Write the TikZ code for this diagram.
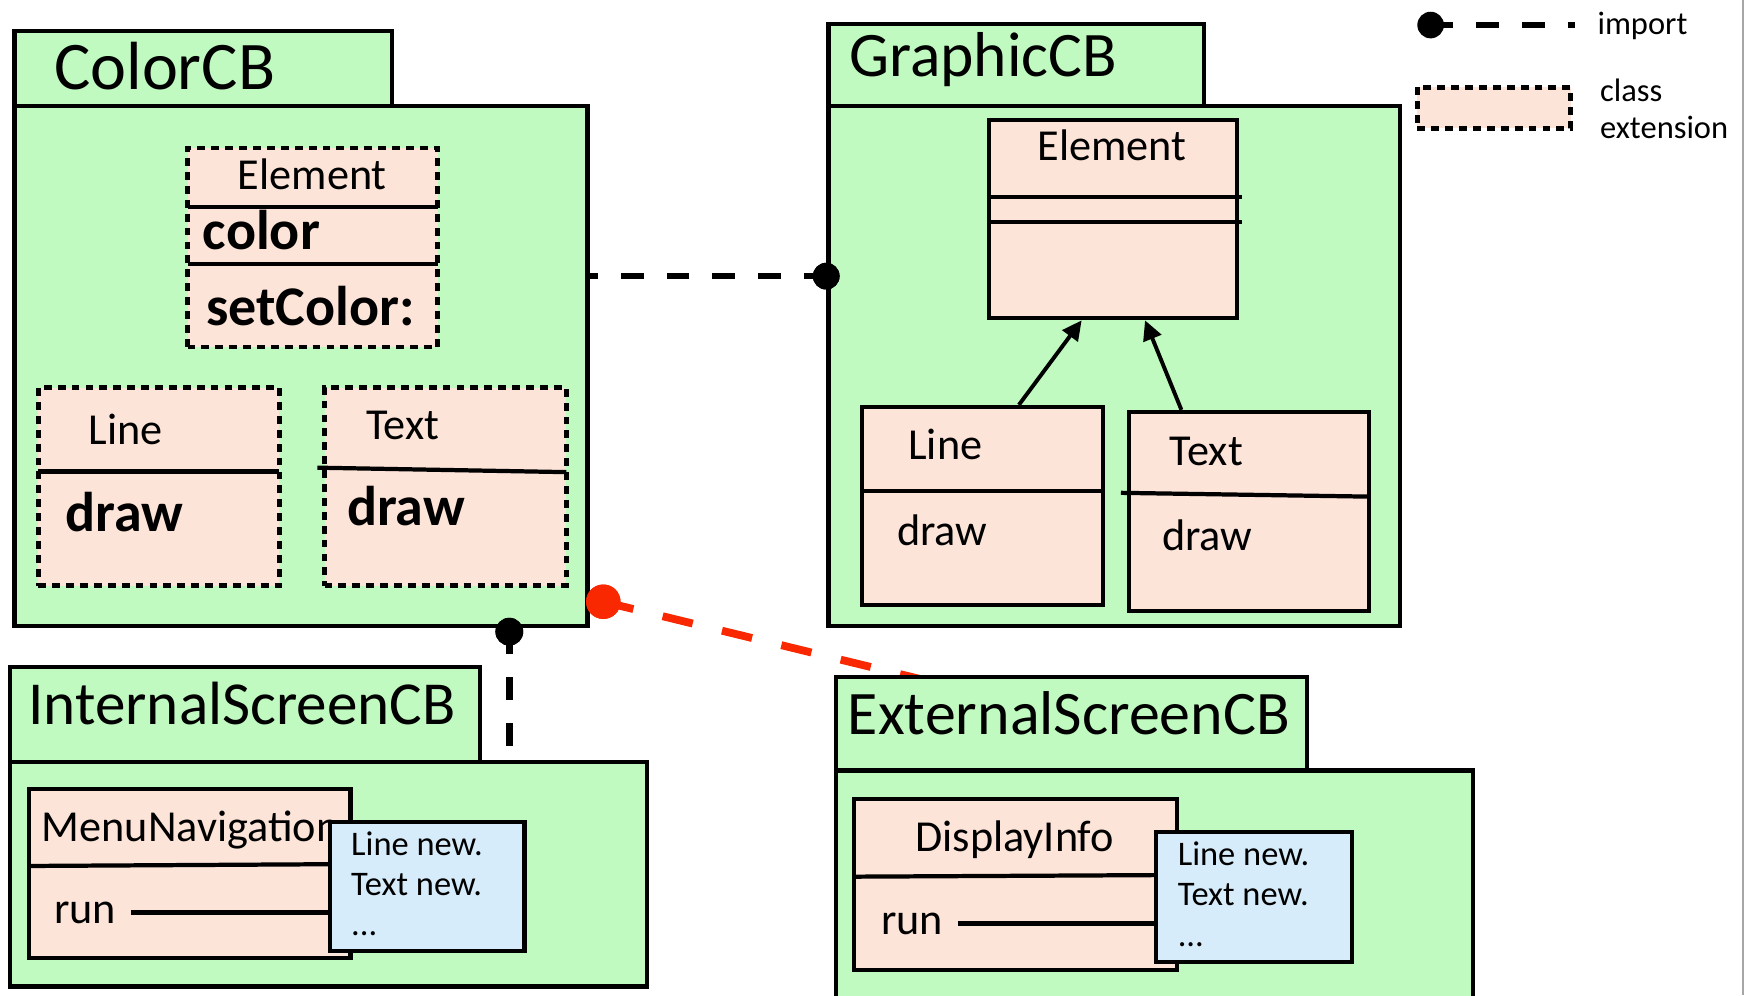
\documentclass[tikz,border=0pt]{standalone}
\usepackage{fontspec}
\setmainfont{Carlito}
\usetikzlibrary{fit,arrows.meta}

\definecolor{pkggreen}{RGB}{192,250,192}
\definecolor{classpeach}{RGB}{253,228,216}
\definecolor{noteblue}{RGB}{214,236,250}
\definecolor{importred}{RGB}{250,40,0}

\begin{document}
\begin{tikzpicture}[x=0.01cm,y=-0.01cm,
  outline/.style={draw=black, line width=1.08pt, inner sep=0pt},
  pkgbox/.style={outline, fill=pkggreen},
  clsbox/.style={outline, fill=classpeach},
  extbox/.style={clsbox, line width=1.2pt, dash pattern=on 2pt off 1.55pt},
  notebox/.style={outline, fill=noteblue},
  divider/.style={line width=1.08pt},
  pkgname/.style={anchor=base west, inner sep=0pt, font=\fontsize{#1}{#1}\selectfont},
  clsname/.style={anchor=base west, inner sep=0pt, font=\fontsize{11.3}{13}\selectfont},
  clsbold/.style={anchor=base west, inner sep=0pt, font=\fontsize{14.3}{16}\selectfont\bfseries},
  notetext/.style={anchor=base west, inner sep=0pt, font=\fontsize{8.8}{10}\selectfont},
  legendtext/.style={anchor=base west, inner sep=0pt, font=\fontsize{8.3}{10}\selectfont},
  importline/.style={line width=1.71pt, dash pattern=on 5.8pt off 5.86pt},
  redimport/.style={draw=importred, line width=2pt, dash pattern=on 7.9pt off 7.7pt},
  dot/.style={circle, fill=#1, inner sep=0pt},
  inherit/.style={line width=1pt, -{Triangle[length=5pt,width=4.8pt]}},
  runline/.style={line width=1.2pt},
]
\clip (0,0) rectangle (1568,894);

% ---------------- packages ----------------
\node[pkgbox, fit={(13,95) (527.6,562)}] (colorbody) {};
\node[pkgbox, fit={(13,27.5) (352,95)}] (colortab) {};
\node[pkgname=17.4] (colorname) at (48,80.8) {ColorCB};

\node[pkgbox, fit={(744,95) (1257.3,562)}] (graphicbody) {};
\node[pkgbox, fit={(744,21.3) (1081,95)}] (graphictab) {};
\node[pkgname=16.2] (graphicname) at (762,69) {GraphicCB};

\node[pkgbox, fit={(8.8,684) (581.3,886)}] (internalbody) {};
\node[pkgbox, fit={(8.8,599.3) (431,684)}] (internaltab) {};
\node[pkgname=15.6] (internalname) at (24.9,651) {InternalScreenCB};

% red import runs under the ExternalScreenCB tab
\node[dot=importred, minimum size=8.8pt] (rdot) at (541.8,540.4) {};
\coordinate (redend) at (850,615.6);
\draw[redimport] (rdot.center) -- (redend);
\node[dot=importred, minimum size=8.8pt] at (rdot) {};

\node[pkgbox, fit={(751,692) (1322.6,910)}] (externalbody) {};
\node[pkgbox, fit={(751,608.3) (1173.6,692)}] (externaltab) {};
\node[pkgname=15.8] (externalname) at (760.7,660) {ExternalScreenCB};

% ---------------- ColorCB class extensions ----------------
\node[extbox, fit={(168.4,133) (393,311.5)}] (celem) {};
\draw[divider] (168.4,186) -- (393,186);
\draw[divider] (168.4,237) -- (393,237);
\node[clsname] (celemname) at (213,170) {Element};
\node[clsbold] (ccolor) at (181.5,224) {color};
\node[clsbold] (csetcolor) at (184.6,292) {setColor:};

\node[extbox, fit={(34.4,348) (251,526)}] (cline) {};
\draw[divider] (34.4,423.5) -- (251,423.5);
\node[clsname] (clinename) at (79,399.6) {Line};
\node[clsbold] (clinedraw) at (58.4,477) {draw};

\node[extbox, fit={(291.5,348) (508.7,526)}] (ctext) {};
\draw[divider] (285,420) -- (508.7,424);
\node[clsname] (ctextname) at (328,395) {Text};
\node[clsbold] (ctextdraw) at (311,472) {draw};

% ---------------- GraphicCB classes ----------------
\node[clsbox, fit={(888,107.6) (1111,285.8)}] (gelem) {};
\draw[divider] (888,177) -- (1115,177);
\draw[divider] (888,199.5) -- (1115,199.5);
\node[clsname] (gelemname) at (931.3,144.4) {Element};

\node[clsbox, fit={(774,365.5) (990.5,543.6)}] (gline) {};
\draw[divider] (774,440.8) -- (990.5,440.8);
\node[clsname] (glinename) at (815,413) {Line};
\node[clsname] (glinedraw) at (805,490) {draw};

\node[clsbox, fit={(1013.7,370) (1229.4,549)}] (gtext) {};
\draw[divider] (1006.7,442.6) -- (1229.4,446);
\node[clsname] (gtextname) at (1050,418) {Text};
\node[clsname] (gtextdraw) at (1043,494) {draw};

\draw[inherit] ([xshift=0.3275cm]gline.north) -- ([xshift=-0.281cm]gelem.south);
\draw[inherit] ([xshift=-0.6055cm]gtext.north) -- ([xshift=0.288cm]gelem.south);

% ---------------- InternalScreenCB ----------------
\node[clsbox, fit={(26,708.9) (314.7,860.6)}] (menu) {};
\draw[divider] (26,777.7) -- (314.7,776);
\node[clsname] (menuname) at (36.9,755.9) {MenuNavigation};
\node[clsname] (menurun) at (48,829.2) {run};
\node[notebox, fit={(296.7,738.5) (471,853.8)}] (inote) {};
\draw[runline] ([xshift=0.124cm]menurun.east) -- (menurun.east -| inote.west);
\node[notetext] (inote1) at (314.7,767.9) {Line new.};
\node[notetext] (inote2) at (314.7,803.8) {Text new.};
\node[notetext] (inote3) at (314.7,839.7) {...};

% ---------------- ExternalScreenCB ----------------
\node[clsbox, fit={(767.2,717.5) (1057,871)}] (disp) {};
\draw[divider] (767.2,787.3) -- (1057,785.8);
\node[clsname] (dispname) at (821.4,764.9) {DisplayInfo};
\node[clsname] (disprun) at (790.5,839.1) {run};
\node[notebox, fit={(1038.2,746.9) (1214.2,864.2)}] (enote) {};
\draw[runline] ([xshift=0.125cm]disprun.east) -- (disprun.east -| enote.west);
\node[notetext] (enote1) at (1057,777.4) {Line new.};
\node[notetext] (enote2) at (1057,813.3) {Text new.};
\node[notetext] (enote3) at (1057,850.2) {...};

% ---------------- imports ----------------
\node[dot=black, minimum size=6.83pt] (gdot) at (742,248) {};
\draw[importline] (gdot.center) -- (colorbody.east |- gdot);
\node[dot=black, minimum size=6.83pt] at (gdot) {};

\node[dot=black, minimum size=7.1pt] (idot) at (457.4,567.3) {};
\draw[importline] (idot.center) -- (idot |- internalbody.north);
\node[dot=black, minimum size=7.1pt] at (idot) {};

% ---------------- legend ----------------
\node[dot=black, minimum size=6.8pt] (legdot) at (1284.8,22.5) {};
\coordinate (legendend) at (1414.5,22.5);
\draw[importline] (legdot.center) -- (legendend);
\node[legendtext] (legimport) at (1434,30.8) {import};
\node[extbox, fit={(1272.9,78.4) (1410.5,115.2)}] (legbox) {};
\node[legendtext] (legclass) at (1436.3,91.3) {class};
\node[legendtext] (legext) at (1436.3,124.2) {extension};

% right page edge
\draw[gray!70, line width=0.5pt] (1565.6,0) -- (1565.6,894);
\end{tikzpicture}
\end{document}
